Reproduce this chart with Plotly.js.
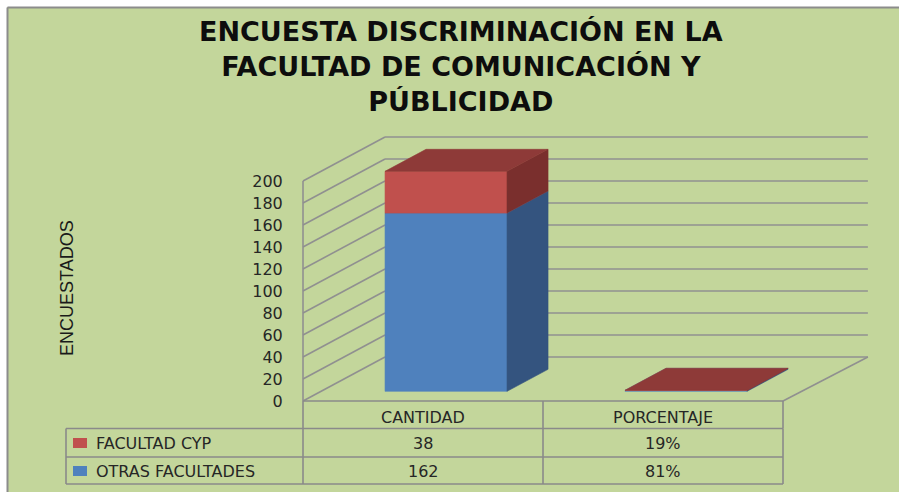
<!DOCTYPE html>
<html>
<head>
<meta charset="utf-8">
<script src="https://cdn.plot.ly/plotly-3.0.1.min.js"></script>
<style>html,body{margin:0;padding:0;background:#fff;}#chart{width:899px;height:492px;}</style>
</head>
<body>
<div id="chart"></div>
<script>
// ---------------- DATA ----------------
const categories = ['CANTIDAD', 'PORCENTAJE'];
const seriesNames = ['OTRAS FACULTADES', 'FACULTAD CYP']; // stacking order: bottom -> top
const otrasValues = [162, 0.81];
const cypValues = [38, 0.19];
const otrasLabels = ['162', '81%'];
const cypLabels = ['38', '19%'];
const yTickValues = [0, 20, 40, 60, 80, 100, 120, 140, 160, 180, 200];
const chartTitleLines = ['ENCUESTA DISCRIMINACIÓN EN LA', 'FACULTAD DE COMUNICACIÓN Y', 'PÚBLICIDAD'];
const yTitle = 'ENCUESTADOS';

// ---------------- GEOMETRY / STYLE ----------------
const W = 899, H = 492;
const X0_PX = 303, PX_PER_X = 240;     // category axis: 1 unit per category
const Y0_PX = 401, PX_PER_Y = 1.1;     // value axis
const toX = px => (px - X0_PX) / PX_PER_X;
const toY = py => (Y0_PX - py) / PX_PER_Y;
const DX = 82 / PX_PER_X, DY = 44 / PX_PER_Y; // oblique depth vector
const DF = 0.22, DB = 0.72;                   // bar front/back depth
const BW = 122 / PX_PER_X, SHIFT = 5 / PX_PER_X;
const gridColor = '#909090';
const colors = {
  'OTRAS FACULTADES': {front: '#4f81bd', side: '#34547f', top: '#4a78b0'},
  'FACULTAD CYP': {front: '#c0504d', side: '#7a2f2d', top: '#8e3a38'}
};
const seriesValues = {'OTRAS FACULTADES': otrasValues, 'FACULTAD CYP': cypValues};

const traces = [];
// walls / gridlines
const gx = [], gy = [];
yTickValues.forEach(v => {
  gx.push(0, DX, null); gy.push(v, v + DY, null);
  gx.push(DX, categories.length + DX + 0.012, null); gy.push(v + DY, v + DY, null);
});
gx.push(0, 0, null); gy.push(0, yTickValues[yTickValues.length - 1], null);
gx.push(categories.length, categories.length + DX + 0.012, null); gy.push(0, DY, null);
traces.push({type: 'scatter', mode: 'lines', x: gx, y: gy, line: {color: gridColor, width: 1.6}, hoverinfo: 'skip'});

function face(pts, color) {
  const xs = pts.map(p => p[0]), ys = pts.map(p => p[1]);
  xs.push(pts[0][0]); ys.push(pts[0][1]);
  traces.push({type: 'scatter', mode: 'lines', x: xs, y: ys, fill: 'toself', fillcolor: color,
    line: {color: color, width: 0.6}, hoverinfo: 'skip'});
}

categories.forEach((cat, i) => {
  const c = i + 0.5 + SHIFT;
  let base = 0;
  seriesNames.forEach(name => {
    const v = seriesValues[name][i];
    const b = base, t = base + v;
    base = t;
    const L = c - BW / 2, R = c + BW / 2;
    const col = colors[name];
    face([[L + DF * DX, b + DF * DY], [R + DF * DX, b + DF * DY], [R + DF * DX, t + DF * DY], [L + DF * DX, t + DF * DY]], col.front);
    face([[R + DF * DX, b + DF * DY], [R + DB * DX, b + DB * DY], [R + DB * DX, t + DB * DY], [R + DF * DX, t + DF * DY]], col.side);
    face([[L + DF * DX, t + DF * DY], [R + DF * DX, t + DF * DY], [R + DB * DX, t + DB * DY], [L + DB * DX, t + DB * DY]], col.top);
  });
});

// ---------------- TABLE ----------------
const shapes = [];
const tLeft = toX(66);
const rowB = [0, toY(428.5), toY(457), toY(484)];
const nC = categories.length;
const tl = {color: '#8a8a8a', width: 1.6};
// header row
shapes.push({type: 'line', xref: 'x', yref: 'y', x0: 0, x1: nC, y0: rowB[0], y1: rowB[0], line: tl});
for (let k = 0; k <= nC; k++) {
  shapes.push({type: 'line', xref: 'x', yref: 'y', x0: k, x1: k, y0: rowB[0], y1: rowB[1], line: tl});
  shapes.push({type: 'line', xref: 'x', yref: 'y', x0: k, x1: k, y0: rowB[1], y1: rowB[3], line: tl});
}
shapes.push({type: 'line', xref: 'x', yref: 'y', x0: tLeft, x1: tLeft, y0: rowB[1], y1: rowB[3], line: tl});
for (let r = 1; r <= 3; r++) {
  shapes.push({type: 'line', xref: 'x', yref: 'y', x0: tLeft, x1: nC, y0: rowB[r], y1: rowB[r], line: tl});
}
// legend keys
shapes.push({type: 'rect', xref: 'x', yref: 'y', x0: toX(73), x1: toX(87), y0: toY(448), y1: toY(438), fillcolor: colors['FACULTAD CYP'].front, line: {width: 0}});
shapes.push({type: 'rect', xref: 'x', yref: 'y', x0: toX(73), x1: toX(87), y0: toY(476), y1: toY(466), fillcolor: colors['OTRAS FACULTADES'].front, line: {width: 0}});
// outer frame (white margin + gray border)
shapes.push({type: 'rect', xref: 'paper', yref: 'paper', x0: 0, x1: 7 / W, y0: 0, y1: 1, fillcolor: '#ffffff', line: {width: 0}});
shapes.push({type: 'rect', xref: 'paper', yref: 'paper', x0: 0, x1: 1, y0: 1 - 7 / H, y1: 1, fillcolor: '#ffffff', line: {width: 0}});
shapes.push({type: 'line', xref: 'paper', yref: 'paper', x0: 7.5 / W, x1: 7.5 / W, y0: 0, y1: 1 - 7.5 / H, line: {color: '#8c8c8c', width: 2}});
shapes.push({type: 'line', xref: 'paper', yref: 'paper', x0: 7.5 / W, x1: 1, y0: 1 - 7.5 / H, y1: 1 - 7.5 / H, line: {color: '#8c8c8c', width: 2}});

const tFont = {family: 'DejaVu Sans, Verdana, sans-serif', size: 16, color: '#262626'};
const annotations = [];
categories.forEach((cat, i) => {
  annotations.push({xref: 'x', yref: 'y', x: i + 0.5, y: toY(417), text: cat, showarrow: false, font: tFont, xanchor: 'center', yanchor: 'middle'});
  annotations.push({xref: 'x', yref: 'y', x: i + 0.5, y: toY(443.5), text: cypLabels[i], showarrow: false, font: tFont, xanchor: 'center', yanchor: 'middle'});
  annotations.push({xref: 'x', yref: 'y', x: i + 0.5, y: toY(471), text: otrasLabels[i], showarrow: false, font: tFont, xanchor: 'center', yanchor: 'middle'});
});
annotations.push({xref: 'x', yref: 'y', x: toX(94), y: toY(443.5), text: seriesNames[1], showarrow: false, font: tFont, xanchor: 'left', yanchor: 'middle'});
annotations.push({xref: 'x', yref: 'y', x: toX(94), y: toY(471), text: seriesNames[0], showarrow: false, font: tFont, xanchor: 'left', yanchor: 'middle'});
// title (one block, three lines)
annotations.push({xref: 'paper', yref: 'paper', x: 461 / W, y: 1 - 66 / H,
  text: chartTitleLines.map(l => '<b>' + l + '</b>').join('<br>'), showarrow: false, align: 'center',
  font: {family: 'DejaVu Sans, Arial, sans-serif', size: 27, color: '#0d0d0d'}, xanchor: 'center', yanchor: 'middle'});
// y axis title
annotations.push({xref: 'paper', yref: 'paper', x: 67 / W, y: 1 - 288 / H, text: yTitle, textangle: -90, showarrow: false,
  font: {family: 'Liberation Sans, Arial, sans-serif', size: 18, color: '#1a1a1a'}, xanchor: 'center', yanchor: 'middle'});

const layout = {
  width: W, height: H,
  margin: {l: 0, r: 0, t: 0, b: 0, pad: 0},
  paper_bgcolor: '#c3d69b', plot_bgcolor: 'rgba(0,0,0,0)',
  showlegend: false,
  xaxis: {visible: false, range: [toX(0), toX(W)], fixedrange: true},
  yaxis: {range: [toY(H), toY(0)], anchor: 'free', position: X0_PX / W, automargin: false,
    showgrid: false, zeroline: false, showline: false,
    tickmode: 'array', tickvals: yTickValues, ticktext: yTickValues.map(String),
    ticks: 'outside', ticklen: 17, tickcolor: 'rgba(0,0,0,0)',
    tickfont: {family: 'DejaVu Sans, Verdana, sans-serif', size: 16, color: '#262626'}},
  shapes: shapes,
  annotations: annotations
};
Plotly.newPlot('chart', traces, layout, {staticPlot: true, displayModeBar: false});
</script>
</body>
</html>
